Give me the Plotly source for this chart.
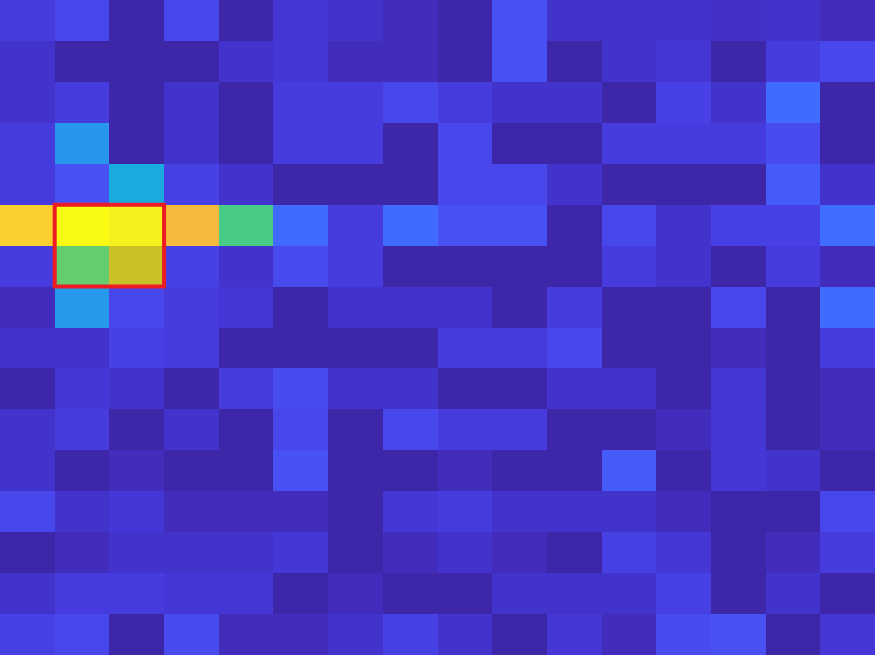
import plotly.graph_objects as go

# Column / row indices
cols = list(range(16))
rows = list(range(16))

# Cell values (row 0 = top)
row00 = [0.08, 0.11, 0.0, 0.11, 0.0, 0.065, 0.05, 0.025, 0.0, 0.14, 0.05, 0.05, 0.05, 0.04, 0.05, 0.025]
row01 = [0.05, 0.0, 0.0, 0.0, 0.05, 0.065, 0.025, 0.025, 0.0, 0.14, 0.0, 0.05, 0.065, 0.0, 0.08, 0.11]
row02 = [0.05, 0.08, 0.0, 0.05, 0.0, 0.08, 0.08, 0.11, 0.08, 0.05, 0.05, 0.0, 0.095, 0.05, 0.21, 0.0]
row03 = [0.08, 0.33, 0.0, 0.05, 0.0, 0.08, 0.08, 0.0, 0.11, 0.0, 0.0, 0.08, 0.08, 0.08, 0.125, 0.0]
row04 = [0.08, 0.14, 0.40, 0.095, 0.05, 0.0, 0.0, 0.0, 0.11, 0.11, 0.05, 0.0, 0.0, 0.0, 0.17, 0.05]
row05 = [0.89, 1.0, 0.97, 0.82, 0.6, 0.21, 0.08, 0.21, 0.14, 0.14, 0.0, 0.11, 0.05, 0.095, 0.095, 0.22]
row06 = [0.08, 0.635, 0.755, 0.095, 0.05, 0.125, 0.08, 0.0, 0.0, 0.0, 0.0, 0.08, 0.05, 0.0, 0.08, 0.025]
row07 = [0.025, 0.34, 0.11, 0.08, 0.065, 0.0, 0.05, 0.05, 0.05, 0.0, 0.08, 0.0, 0.0, 0.11, 0.0, 0.21]
row08 = [0.05, 0.05, 0.095, 0.08, 0.0, 0.0, 0.0, 0.0, 0.08, 0.08, 0.11, 0.0, 0.0, 0.025, 0.0, 0.08]
row09 = [0.0, 0.065, 0.05, 0.0, 0.08, 0.125, 0.05, 0.05, 0.0, 0.0, 0.05, 0.05, 0.0, 0.065, 0.0, 0.025]
row10 = [0.05, 0.08, 0.0, 0.05, 0.0, 0.11, 0.0, 0.11, 0.08, 0.08, 0.0, 0.0, 0.025, 0.065, 0.0, 0.025]
row11 = [0.05, 0.0, 0.025, 0.0, 0.0, 0.14, 0.0, 0.0, 0.025, 0.0, 0.0, 0.17, 0.0, 0.065, 0.05, 0.0]
row12 = [0.11, 0.05, 0.065, 0.025, 0.025, 0.025, 0.0, 0.065, 0.08, 0.05, 0.05, 0.05, 0.025, 0.0, 0.0, 0.11]
row13 = [0.0, 0.025, 0.05, 0.05, 0.05, 0.065, 0.0, 0.025, 0.05, 0.025, 0.0, 0.095, 0.065, 0.0, 0.025, 0.08]
row14 = [0.05, 0.08, 0.08, 0.065, 0.065, 0.0, 0.025, 0.0, 0.0, 0.05, 0.05, 0.05, 0.095, 0.0, 0.05, 0.0]
row15 = [0.095, 0.11, 0.0, 0.125, 0.025, 0.025, 0.05, 0.095, 0.05, 0.0, 0.065, 0.025, 0.125, 0.14, 0.0, 0.065]

z = [row00, row01, row02, row03, row04, row05, row06, row07,
     row08, row09, row10, row11, row12, row13, row14, row15]

# Highlighted block (column / row ranges)
highlight_cols = [1, 2]
highlight_rows = [5, 6]

# MATLAB parula (64 colours)
parula = [
    (0.2422, 0.1504, 0.6603), (0.2504, 0.1650, 0.7076), (0.2578, 0.1818, 0.7511), (0.2647, 0.1978, 0.7952),
    (0.2706, 0.2147, 0.8364), (0.2751, 0.2342, 0.8710), (0.2783, 0.2559, 0.8991), (0.2803, 0.2782, 0.9221),
    (0.2813, 0.3006, 0.9414), (0.2810, 0.3228, 0.9579), (0.2795, 0.3447, 0.9717), (0.2760, 0.3667, 0.9829),
    (0.2699, 0.3892, 0.9906), (0.2602, 0.4123, 0.9952), (0.2440, 0.4358, 0.9988), (0.2206, 0.4603, 0.9973),
    (0.1963, 0.4847, 0.9892), (0.1834, 0.5074, 0.9798), (0.1786, 0.5289, 0.9682), (0.1764, 0.5499, 0.9520),
    (0.1687, 0.5703, 0.9359), (0.1540, 0.5902, 0.9218), (0.1460, 0.6091, 0.9079), (0.1380, 0.6276, 0.8973),
    (0.1248, 0.6459, 0.8883), (0.1113, 0.6635, 0.8763), (0.0952, 0.6798, 0.8598), (0.0689, 0.6948, 0.8394),
    (0.0297, 0.7082, 0.8163), (0.0036, 0.7203, 0.7917), (0.0067, 0.7312, 0.7660), (0.0433, 0.7411, 0.7394),
    (0.0964, 0.7500, 0.7120), (0.1408, 0.7584, 0.6842), (0.1717, 0.7670, 0.6554), (0.1938, 0.7758, 0.6251),
    (0.2161, 0.7843, 0.5923), (0.2470, 0.7918, 0.5567), (0.2906, 0.7973, 0.5188), (0.3406, 0.8008, 0.4789),
    (0.3909, 0.8029, 0.4354), (0.4456, 0.8024, 0.3909), (0.5044, 0.7993, 0.3480), (0.5616, 0.7942, 0.3045),
    (0.6174, 0.7876, 0.2612), (0.6720, 0.7793, 0.2227), (0.7242, 0.7698, 0.1910), (0.7738, 0.7598, 0.1646),
    (0.8203, 0.7498, 0.1535), (0.8634, 0.7406, 0.1596), (0.9035, 0.7330, 0.1774), (0.9393, 0.7288, 0.2100),
    (0.9728, 0.7298, 0.2394), (0.9956, 0.7434, 0.2371), (0.9970, 0.7659, 0.2199), (0.9952, 0.7893, 0.2028),
    (0.9892, 0.8136, 0.1885), (0.9786, 0.8386, 0.1766), (0.9676, 0.8639, 0.1643), (0.9610, 0.8890, 0.1537),
    (0.9597, 0.9135, 0.1423), (0.9628, 0.9373, 0.1265), (0.9691, 0.9606, 0.1064), (0.9769, 0.9839, 0.0805),
]
n = len(parula)
colorscale = [[i / (n - 1), "rgb(%d,%d,%d)" % (round(r * 255), round(g * 255), round(b * 255))]
              for i, (r, g, b) in enumerate(parula)]

fig = go.Figure(go.Heatmap(
    z=z, x=cols, y=rows,
    colorscale=colorscale, zmin=0, zmax=1,
    showscale=False, xgap=0, ygap=0,
))

fig.add_shape(
    type="rect",
    x0=min(highlight_cols) - 0.5, x1=max(highlight_cols) + 0.5,
    y0=min(highlight_rows) - 0.5, y1=max(highlight_rows) + 0.5,
    xref="x", yref="y",
    line=dict(color="rgb(237,28,36)", width=4),
)

fig.update_xaxes(visible=False, range=[-0.5, 15.5], showgrid=False, zeroline=False)
fig.update_yaxes(visible=False, range=[15.5, -0.5], showgrid=False, zeroline=False)
fig.update_layout(
    width=875, height=655,
    margin=dict(l=0, r=0, t=0, b=0),
    paper_bgcolor="white", plot_bgcolor="white",
)

fig.write_html("out.html")
